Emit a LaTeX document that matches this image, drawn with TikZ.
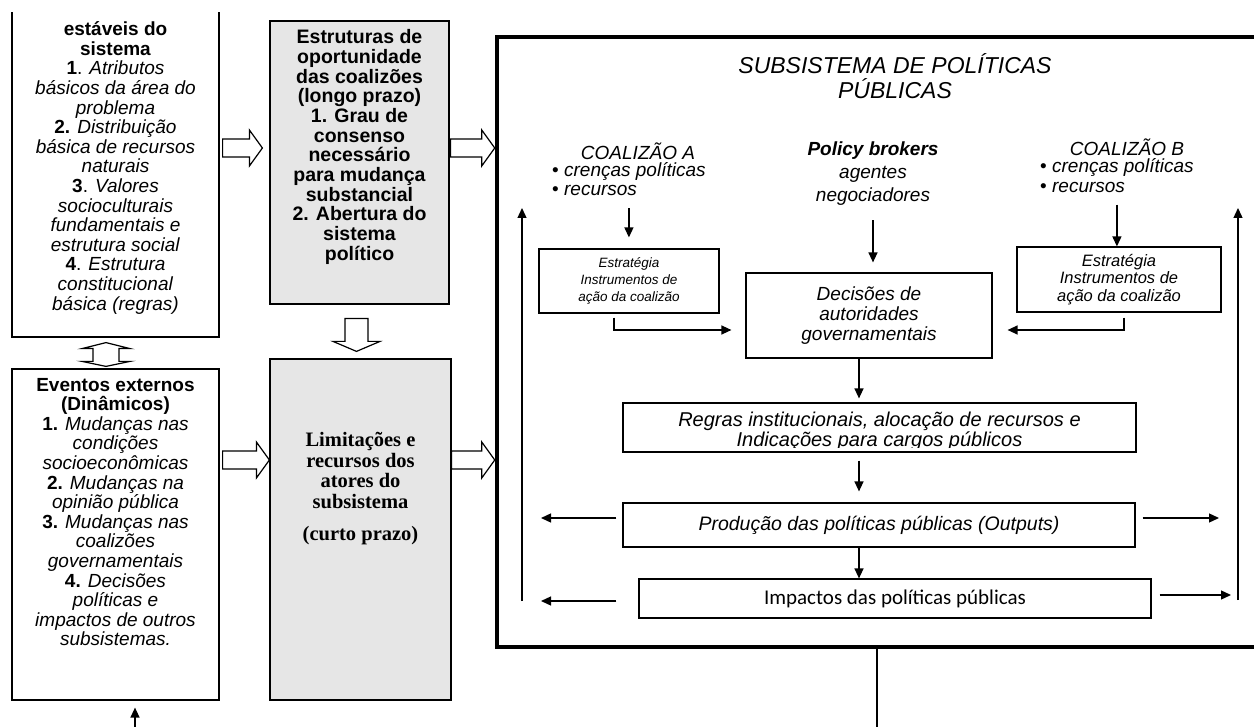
\documentclass[tikz,border=0pt]{standalone}
\usepackage{fontspec}
\setmainfont{Liberation Sans}
\newfontfamily\serifface{Liberation Serif}
\newfontfamily\calibface{Carlito}
\usetikzlibrary{calc, arrows.meta}
\definecolor{boxgray}{RGB}{230,230,230}
\newcommand{\boxfont}{\fontsize{19}{19.6}\selectfont}
\tikzset{
    sbox/.style={rectangle, draw=black, line width=1.2pt, inner sep=0pt},
    gbox/.style={sbox, fill=boxgray},
    txt/.style={inner sep=0pt, align=center, font=\boxfont},
    itxt/.style={txt, font=\itshape\boxfont},
    arr/.style={-{Triangle[length=10pt, width=9pt]}, line width=1.3pt},
    hollow/.style={draw=black, line width=1.2pt, line join=miter},
}
% hollow block arrows
\newcommand{\hollowright}[2]{%
  \draw[hollow] let \p1=(#1), \p2=(#2) in
    (\x1,\y1+9pt) -- (\x2-13pt,\y1+9pt) -- (\x2-13pt,\y1+18pt) -- (\x2,\y1)
    -- (\x2-13pt,\y1-18pt) -- (\x2-13pt,\y1-9pt) -- (\x1,\y1-9pt) -- cycle;}
\newcommand{\hollowdown}[2]{%
  \draw[hollow] let \p1=(#1), \p2=(#2) in
    (\x1-11.5pt,\y1) -- (\x1-11.5pt,\y2+10pt) -- (\x1-23.5pt,\y2+10pt) -- (\x1,\y2)
    -- (\x1+23.5pt,\y2+10pt) -- (\x1+11.5pt,\y2+10pt) -- (\x1+11.5pt,\y1) -- cycle;}
\newcommand{\hollowboth}[2]{%
  \draw[hollow] let \p1=(#1), \p2=(#2) in
    (\x1,\y1) -- (\x1+24pt,\y1-6pt) -- (\x1+13pt,\y1-6pt) -- (\x1+13pt,\y2+5pt)
    -- (\x1+24pt,\y2+5pt) -- (\x1,\y2) -- (\x1-24pt,\y2+5pt) -- (\x1-13pt,\y2+5pt)
    -- (\x1-13pt,\y1-6pt) -- (\x1-24pt,\y1-6pt) -- cycle;}

\begin{document}
\begin{tikzpicture}[x=1pt, y=-1pt]
    \useasboundingbox (0,0) rectangle (1254,727);
    \coordinate (rowA) at (0,148);
    \coordinate (rowB) at (0,460);
    \coordinate (midcol) at (859,0);

    % left column
    \begin{scope}
        \clip (0,13) rectangle (1254,727);
        \node [sbox, minimum width=207pt, minimum height=347pt] (sta) at (115.5,163.5) {};
    \end{scope}
    \node [txt] (staText) at (115.5,168) {\textbf{estáveis do}\\ \textbf{sistema}\\
        \textbf{1}. \textit{Atributos}\\ \textit{básicos da área do}\\ \textit{problema}\\
        \textbf{2.} \textit{Distribuição}\\ \textit{básica de recursos}\\ \textit{naturais}\\
        \textbf{3}. \textit{Valores}\\ \textit{socioculturais}\\ \textit{fundamentais e}\\
        \textit{estrutura social}\\ \textbf{4}. \textit{Estrutura}\\ \textit{constitucional}\\
        \textit{básica (regras)}};
    \node [sbox, minimum width=207pt, minimum height=331pt] (ext) at (115.5,534.5) {};
    \node [txt] (extText) at (115.5,512) {\textbf{Eventos externos}\\ \textbf{(Dinâmicos)}\\
        \textbf{1.} \textit{Mudanças nas}\\ \textit{condições}\\ \textit{socioeconômicas}\\
        \textbf{2.} \textit{Mudanças na}\\ \textit{opinião pública}\\
        \textbf{3.} \textit{Mudanças nas}\\ \textit{coalizões}\\ \textit{governamentais}\\
        \textbf{4.} \textit{Decisões}\\ \textit{políticas e}\\ \textit{impactos de outros}\\
        \textit{subsistemas.}};

    % middle column
    \node [gbox, minimum width=179pt, minimum height=283pt] (opp) at (359.5,162.5) {};
    \node [txt, font=\bfseries\fontsize{19.5}{19.7}\selectfont] (oppText) at (359.5,147)
        {Estruturas de\\ oportunidade\\ das coalizões\\ (longo prazo)\\ 1. Grau de\\ consenso\\
        necessário\\ para mudança\\ substancial\\ 2. Abertura do\\ sistema\\ político};
    \node [gbox, minimum width=181pt, minimum height=341pt] (lim) at (360.5,529.5) {};
    \node [txt, font=\serifface\bfseries\fontsize{20.5}{20.5}\selectfont] (limText) at (360.5,489)
        {Limitações e\\ recursos dos\\ atores do\\ subsistema\\[12pt] (curto prazo)};

    % subsystem
    \node [sbox, line width=4.5pt, minimum width=778pt, minimum height=610pt] (sub) at (886,342) {};
    \node [txt, font=\itshape\fontsize{23}{25}\selectfont] (title) at (895,76)
        {SUBSISTEMA DE POLÍTICAS\\ PÚBLICAS};
    \node [itxt] (coalA) at (638,151) {COALIZÃO A};
    \node [itxt, align=left, anchor=west] (coalAlist) at (552,179)
        {\upshape•\ \itshape crenças políticas\\ \upshape•\ \itshape recursos};
    \node [txt, font=\itshape\fontsize{19}{23}\selectfont] (brokers) at (873,174)
        {\textbf{Policy brokers}\\ agentes\\ negociadores};
    \node [itxt] (coalB) at (1127,147) {COALIZÃO B};
    \node [itxt, align=left, anchor=west] (coalBlist) at (1040,175.5)
        {\upshape•\ \itshape crenças políticas\\ \upshape•\ \itshape recursos};

    \node [sbox, minimum width=180pt, minimum height=64pt, align=center,
        font=\itshape\fontsize{13.5}{17}\selectfont] (stratA) at (629,281)
        {Estratégia\\ Instrumentos de\\ ação da coalizão};
    \node [sbox, minimum width=204pt, minimum height=65pt, align=center,
        font=\itshape\fontsize{16.5}{17.5}\selectfont] (stratB) at (1119,279.5)
        {Estratégia\\ Instrumentos de\\ ação da coalizão};
    \node [sbox, minimum width=246pt, minimum height=85pt, align=center,
        font=\itshape\fontsize{19}{20}\selectfont] (dec) at (869,315.5)
        {Decisões de\\ autoridades\\ governamentais};
    \node [sbox, minimum width=513pt, minimum height=49pt] (rules) at (879.5,427.5) {};
    \begin{scope}
        \clip (rules.north west) rectangle ([yshift=5pt]rules.south east);
        \node [txt, font=\itshape\fontsize{20}{18}\selectfont] (rulesText) at (879.5,431)
            {Regras institucionais, alocação de recursos e\\ Indicações para cargos públicos};
    \end{scope}
    \node [sbox, minimum width=512pt, minimum height=44pt,
        font=\itshape\fontsize{19.5}{20}\selectfont] (prod) at (879,525)
        {Produção das políticas públicas (Outputs)};
    \node [sbox, minimum width=512pt, minimum height=39pt,
        font=\calibface\fontsize{21}{24}\selectfont] (imp) at (895,598.5)
        {Impactos das políticas públicas};

    % block arrows
    \hollowboth{$(sta.south)+(-9.5,5)$}{$(ext.north)+(0,-2)$}
    \hollowright{$(sta.east |- rowA)+(3,0)$}{$(opp.west |- rowA)+(-7,0)$}
    \hollowright{$(opp.east |- rowA)+(1,0)$}{sub.west |- rowA}
    \hollowright{$(ext.east |- rowB)+(3,0)$}{lim.west |- rowB}
    \hollowright{lim.east |- rowB}{sub.west |- rowB}
    \hollowdown{$(opp.south)+(-3,14)$}{$(lim.north)+(0,-7)$}

    % free ends
    \coordinate (upfoot) at (135,735);
    \coordinate (downfoot) at (877,735);
    \coordinate (elbowA) at (614,330);
    \coordinate (elbowB) at (1124,330);
    \coordinate (outL1) at (541,518);
    \coordinate (outL2) at (541,601);
    \coordinate (outR1) at (1219,518);
    \coordinate (outR2) at (1231,595);
    \coordinate (retL) at (522,601);
    \coordinate (retLtop) at (522,208);
    \coordinate (retR) at (1238,600);
    \coordinate (retRtop) at (1238,208);

    % connectors
    \draw[arr, shorten <=12pt, shorten >=11pt] (coalAlist.south) -- (coalAlist.south |- stratA.north);
    \draw[arr, shorten <=12pt] (coalBlist.south) -- (coalBlist.south |- stratB.north);
    \draw[arr, shorten <=14pt, shorten >=10pt] (brokers.south) -- (brokers.south |- dec.north);
    \draw[arr, shorten <=4pt, shorten >=14pt] (stratA.south -| elbowA) |- (dec.west |- elbowA);
    \draw[arr, shorten <=5pt, shorten >=15pt] (stratB.south -| elbowB) |- (dec.east |- elbowB);
    \draw[arr, shorten >=4pt] (dec.south -| midcol) -- (rules.north -| midcol);
    \draw[arr, shorten <=8pt, shorten >=11pt] (rules.south -| midcol) -- (prod.north -| midcol);
    \draw[arr] (prod.south -| midcol) -- (imp.north -| midcol);
    \draw[arr, shorten <=6pt] (prod.west |- outL1) -- (outL1);
    \draw[arr, shorten <=22pt] (imp.west |- outL2) -- (outL2);
    \draw[arr, shorten <=7pt] (prod.east |- outR1) -- (outR1);
    \draw[arr, shorten <=8pt] (imp.east |- outR2) -- (outR2);
    \draw[arr] (retL) -- (retLtop);
    \draw[arr] (retR) -- (retRtop);
    \draw[line width=1.3pt] (sub.south -| downfoot) -- (downfoot);
    \draw[arr, shorten >=7pt] (upfoot) -- (upfoot |- ext.south);
\end{tikzpicture}
\end{document}
